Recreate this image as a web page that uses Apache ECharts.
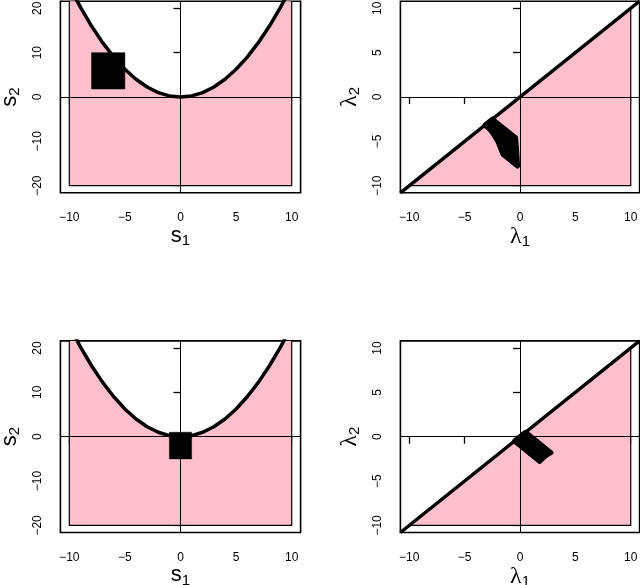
<!DOCTYPE html>
<html>
<head>
<meta charset="utf-8">
<script src="https://cdn.jsdelivr.net/npm/echarts@6/dist/echarts.min.js"></script>
<style>
  html, body { margin: 0; padding: 0; background: #fff; }
  #chart { width: 640px; height: 585px; }
</style>
</head>
<body>
<div id="chart"></div>
<script>
// boundary curve in the (s1, s2) plane, read at whole s1 values
const curveS1 = [-10, -9, -8, -7, -6, -5, -4, -3, -2, -1, 0, 1, 2, 3, 4, 5, 6, 7, 8, 9, 10];
const curveS2 = [25, 20.25, 16, 12.25, 9, 6.25, 4, 2.25, 1, 0.25, 0, 0.25, 1, 2.25, 4, 6.25, 9, 12.25, 16, 20.25, 25];
const sFloor = -20;

// black squares in the s-plane (s1 span, s2 span)
const squareTopS1 = [-8, -5];
const squareTopS2 = [1.8, 10];
const squareBotS1 = [-1, 1];
const squareBotS2 = [-5, 1];

// their images in the lambda-plane (outline vertices)
const imgTopL1 = [-0.40, -2.5, -3.16, -2.8, -2.5, -2.0, -1.55, -0.22, -0.27, -0.32];
const imgTopL2 = [-4.60, -2.5, -3.16, -3.57, -4.0, -5.0, -6.45, -7.78, -6.67, -5.71];
const imgBotL1 = [0.5, -0.5, 1.79, 2.0, 2.24, 2.5, 2.79];
const imgBotL2 = [0.5, -0.5, -2.79, -2.5, -2.24, -2.0, -1.79];

// pink triangle below the diagonal
const triL1 = [-10, 10, 10];
const triL2 = [-10, 10, -10];
const diagL = [-10.8, 10.8];

const sTicksX = [-10, -5, 0, 5, 10];
const sTicksY = [-20, -10, 0, 10, 20];
const lamTicks = [-10, -5, 0, 5, 10];
const sRangeX = [-10.8, 10.8];
const sRangeY = [-21.6, 21.6];
const lamRange = [-10.8, 10.8];

const PINK = '#FFC0CB';
const FONT = 'Liberation Sans, Arial, sans-serif';

const chart = echarts.init(document.getElementById('chart'));

function fmt(v) {
  return v < 0 ? '\u2212' + Math.abs(v) : String(v);
}

function nameStyle(greek) {
  return {
    rich: {
      m: { fontSize: greek ? 24 : 22, fontFamily: greek ? 'Liberation Serif, serif' : FONT, color: '#000' },
      sub: { fontSize: 15, fontFamily: FONT, color: '#000', padding: [10, 0, 0, 0] }
    }
  };
}

function makeAxis(kind, range, ticks, name, greek) {
  const isY = kind === 'y';
  return {
    type: 'value',
    min: range[0],
    max: range[1],
    name: name,
    nameLocation: 'middle',
    nameGap: isY ? 38 : 29,
    nameRotate: isY ? 90 : 0,
    nameTextStyle: nameStyle(greek),
    axisLine: { show: false },
    splitLine: { show: false },
    axisTick: { show: true, length: 7, customValues: ticks, lineStyle: { color: '#000', width: 1.3 } },
    axisLabel: {
      show: true,
      customValues: ticks,
      rotate: isY ? 90 : 0,
      margin: isY ? 17 : 19,
      fontSize: 12,
      fontFamily: FONT,
      color: '#000',
      formatter: fmt
    }
  };
}

const panels = [
  { left: 60.4, top: 1.2, width: 240.2, s: true },
  { left: 400.4, top: 1.2, width: 239.2, s: false },
  { left: 60.4, top: 340.9, width: 240.2, s: true },
  { left: 400.4, top: 340.9, width: 239.2, s: false }
];

const grids = panels.map(p => ({
  left: p.left, top: p.top, width: p.width, height: 191.6,
  show: true, borderColor: '#000', borderWidth: 1.6, backgroundColor: 'transparent',
  outerBoundsMode: 'none'
}));

const xAxes = panels.map((p, i) => Object.assign(
  makeAxis('x', p.s ? sRangeX : lamRange, p.s ? sTicksX : lamTicks,
    p.s ? '{m|s}{sub|1}' : '{m|\u03bb}{sub|1}', !p.s),
  { gridIndex: i }));
const yAxes = panels.map((p, i) => Object.assign(
  makeAxis('y', p.s ? sRangeY : lamRange, p.s ? sTicksY : lamTicks,
    p.s ? '{m|s}{sub|2}' : '{m|\u03bb}{sub|2}', !p.s),
  { gridIndex: i }));

function polygon(idx, xs, ys, fill, strokeW) {
  return {
    type: 'custom',
    xAxisIndex: idx,
    yAxisIndex: idx,
    clip: true,
    silent: true,
    data: [[xs[0], ys[0]]],
    renderItem: (params, api) => ({
      type: 'polygon',
      shape: { points: xs.map((x, k) => api.coord([x, ys[k]])) },
      style: { fill: fill, stroke: '#000', lineWidth: strokeW, lineJoin: 'round' }
    })
  };
}

function rectXY(sx, sy) {
  return [[sx[0], sx[1], sx[1], sx[0]], [sy[0], sy[0], sy[1], sy[1]]];
}

function zeroLines() {
  return {
    silent: true,
    symbol: ['none', 'none'],
    label: { show: false },
    lineStyle: { color: '#000', width: 1, type: 'solid' },
    data: [{ xAxis: 0 }, { yAxis: 0 }]
  };
}

function thickLine(idx, pts, withZero) {
  return {
    type: 'line',
    xAxisIndex: idx,
    yAxisIndex: idx,
    data: pts,
    symbol: 'none',
    silent: true,
    clip: true,
    lineStyle: { color: '#000', width: 3.5 },
    markLine: withZero ? zeroLines() : undefined
  };
}

const curvePts = curveS1.map((x, i) => [x, curveS2[i]]);
const pinkSX = curveS1.concat([10, -10]);
const pinkSY = curveS2.concat([sFloor, sFloor]);
const diagPts = diagL.map(v => [v, v]);

const series = [];
[[0, squareTopS1, squareTopS2], [2, squareBotS1, squareBotS2]].forEach(([idx, sx, sy]) => {
  const r = rectXY(sx, sy);
  series.push(polygon(idx, pinkSX, pinkSY, PINK, 1.2));
  series.push(polygon(idx, r[0], r[1], '#000', 0.5));
  series.push(thickLine(idx, curvePts, true));
});
[[1, imgTopL1, imgTopL2], [3, imgBotL1, imgBotL2]].forEach(([idx, lx, ly]) => {
  series.push(polygon(idx, triL1, triL2, PINK, 1.2));
  series.push(polygon(idx, lx, ly, '#000', 5));
  series.push(thickLine(idx, diagPts, true));
});

chart.setOption({
  animation: false,
  backgroundColor: '#fff',
  grid: grids,
  xAxis: xAxes,
  yAxis: yAxes,
  series: series
});
</script>
</body>
</html>
